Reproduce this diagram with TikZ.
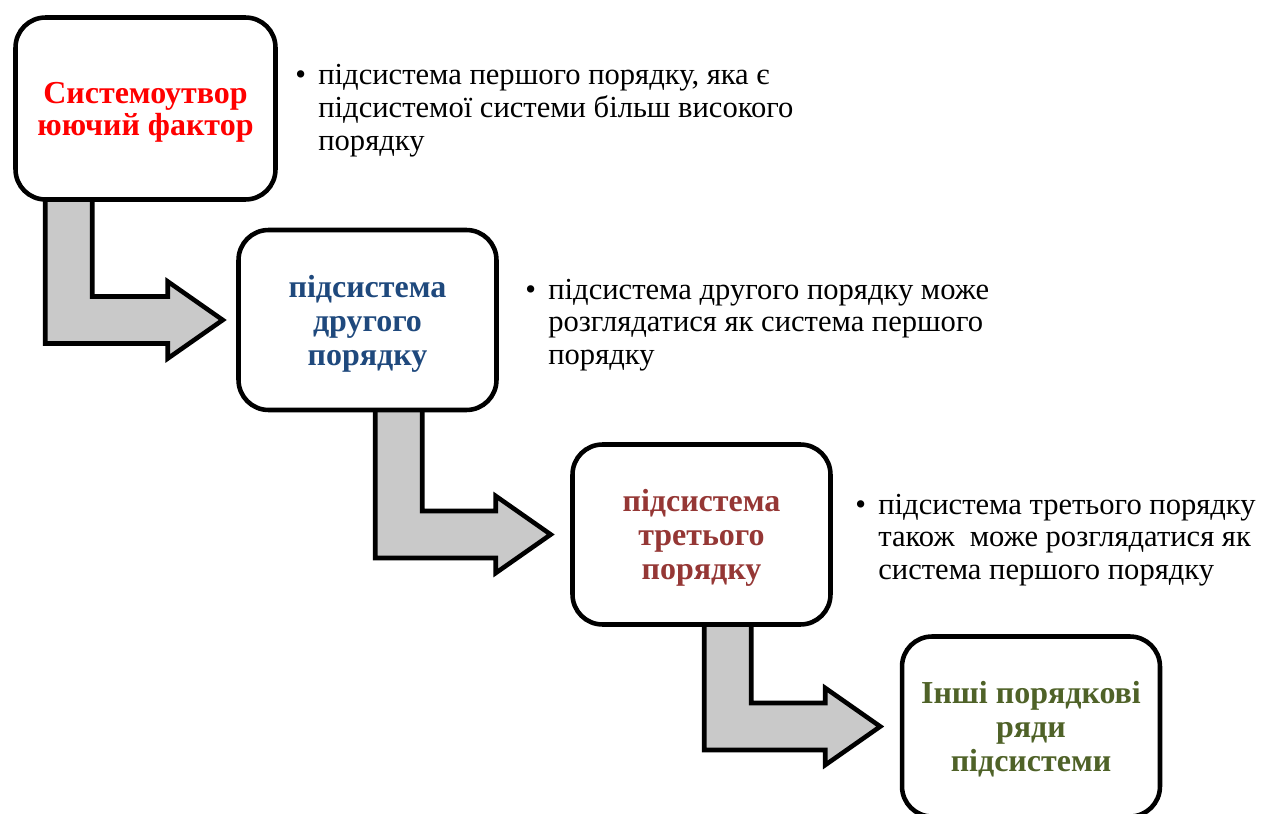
\documentclass[tikz,border=0pt]{standalone}
\usepackage{fontspec}
\setmainfont{Liberation Serif}
\usepackage{xcolor}
\usepackage{tikz}
\usetikzlibrary{positioning, calc, backgrounds}

\definecolor{titlered}{HTML}{FF0000}
\definecolor{titleblue}{HTML}{1F497D}
\definecolor{titlebrown}{HTML}{953735}
\definecolor{titlegreen}{HTML}{4F6228}
\definecolor{arrowgray}{HTML}{C9C9C9}

\tikzset{
  stagebox/.style={draw, line width=2.6pt, rounded corners=0.6cm, fill=white,
    minimum width=5.16cm, minimum height=3.6cm, align=center, text depth=0pt,
    font=\fontsize{18.2}{19.4}\selectfont\bfseries},
  stairarrow/.style={draw, fill=arrowgray, line width=2.6pt, line join=miter},
  note/.style={anchor=base west, inner sep=0pt, font=\fontsize{17.4}{18.7}\selectfont}
}

% bent arrow: from box, to box, shaft offset, gap before target
\newcommand{\stairconn}[4]{%
  \coordinate (s) at ($(#1.south west)+(#3,-10)$);
  \coordinate (t) at ($(#2.west)+(-#4,0)$);
  \draw[stairarrow] (s) -- ($(s |- t)+(0,23.5)$) -- ($(t)+(-55,23.5)$)
    -- ($(t)+(-55,38.5)$) -- (t) -- ($(t)+(-55,-38.5)$) -- ($(t)+(-55,-23.5)$)
    -- ($(s |- t)+(47,-23.5)$) -- ($(s)+(47,0)$);
}

\begin{document}
\begin{tikzpicture}[x=0.02cm, y=-0.02cm]
  \useasboundingbox (0,0) rectangle (1275,814);

  % stages
  \node[stagebox, text=titlered, minimum width=5.2cm, minimum height=3.64cm,
    font=\fontsize{18.2}{18.2}\selectfont\bfseries] (sys) at (145.5,108.5) {Системоутвор\\юючий фактор};
  \node[stagebox, text=titleblue] (sub2) at (367.5,320) {підсистема\\другого\\порядку};
  \node[stagebox, text=titlebrown] (sub3) at (701.5,534.5) {підсистема\\третього\\порядку};
  \node[stagebox, text=titlegreen] (other) at (1031,726.5) {Інші порядкові\\ряди\\підсистеми};

  % arrows behind the boxes
  \begin{scope}[on background layer]
    \stairconn{sys}{sub2}{32}{13.5}
    \stairconn{sub2}{sub3}{139}{19.5}
    \stairconn{sub3}{other}{134}{19.5}
  \end{scope}

  % notes
  \node[note] (note1) at (295,85) {\begin{tabular}[t]{@{}p{0.46cm}@{}l@{}}
    • & підсистема першого порядку, яка є\\
      & підсистемої системи більш високого\\
      & порядку\end{tabular}};
  \node[note] (note2) at (525,299) {\begin{tabular}[t]{@{}p{0.46cm}@{}l@{}}
    • & підсистема другого порядку може\\
      & розглядатися як система першого\\
      & порядку\end{tabular}};
  \node[note] (note3) at (855,514) {\begin{tabular}[t]{@{}p{0.46cm}@{}l@{}}
    • & підсистема третього порядку\\
      & також\ \ може розглядатися як\\
      & система першого порядку\end{tabular}};
\end{tikzpicture}
\end{document}
